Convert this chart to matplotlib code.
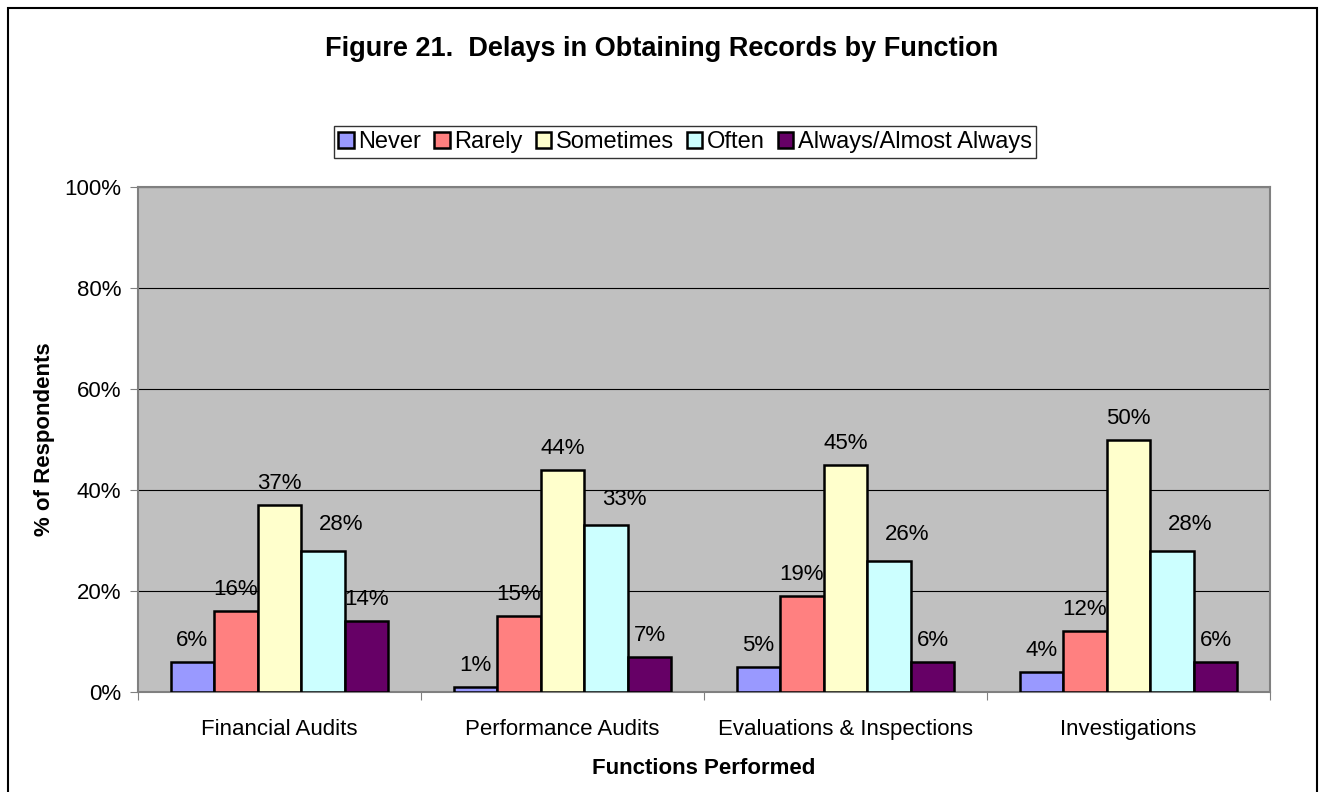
import matplotlib
matplotlib.use("Agg")
import matplotlib.pyplot as plt
import numpy as np
from matplotlib.patches import Rectangle

categories = ["Financial Audits", "Performance Audits", "Evaluations & Inspections", "Investigations"]
series_names = ["Never", "Rarely", "Sometimes", "Often", "Always/Almost Always"]
never = [6, 1, 5, 4]
rarely = [16, 15, 19, 12]
sometimes = [37, 44, 45, 50]
often = [28, 33, 26, 28]
always = [14, 7, 6, 6]
series_values = [never, rarely, sometimes, often, always]
colors = ["#9999FF", "#FF8080", "#FFFFCC", "#CCFFFF", "#660066"]
yticks = [0, 20, 40, 60, 80, 100]
ytick_labels = ["0%", "20%", "40%", "60%", "80%", "100%"]

plt.rcParams['font.family'] = ['Liberation Sans', 'DejaVu Sans']

W, H = 1323, 792
fig = plt.figure(figsize=(W / 100, H / 100), dpi=100)
ax = fig.add_axes([138 / W, 1 - 692 / H, (1270 - 138) / W, (692 - 187) / H])
ax.set_facecolor("#C0C0C0")

n = len(series_names)
bw = 1 / 6.5
x = np.arange(len(categories))
for i, (name, vals, c) in enumerate(zip(series_names, series_values, colors)):
    pos = x + (i - (n - 1) / 2) * bw
    ax.bar(pos, vals, width=bw, color=c, edgecolor="black", linewidth=1.8,
           label=name, zorder=3)
    # Excel nudged the "Often" labels up and to the right
    dx, dy = (13, 15) if name == "Often" else (0, 11.5)
    for xp, v in zip(pos, vals):
        ax.annotate(f"{v}%", (xp, v), xytext=(dx, dy), textcoords="offset points",
                    ha="center", va="baseline", fontsize=16, zorder=4)

ax.set_xlim(-0.5, len(categories) - 0.5)
ax.set_ylim(0, 100)
ax.set_yticks(yticks)
ax.set_yticklabels(ytick_labels, fontsize=16)
ax.yaxis.grid(True, color="black", linewidth=0.8, zorder=1)
ax.set_axisbelow(True)
ax.set_xticks(np.arange(len(categories) + 1) - 0.5)
ax.set_xticklabels([])
ax.set_xticks(x, minor=True)
ax.set_xticklabels(categories, minor=True, fontsize=16)
ax.tick_params(axis="x", which="minor", length=0, pad=19.5)
ax.tick_params(axis="x", which="major", length=6, direction="out", color="#808080")
ax.tick_params(axis="y", length=6, direction="out", color="#808080", pad=6)
for s in ax.spines.values():
    s.set_color("#808080")
    s.set_linewidth(1.5)

ax.set_ylabel("% of Respondents", fontsize=16, fontweight="bold", labelpad=7)
ax.set_xlabel("Functions Performed", fontsize=16, fontweight="bold", labelpad=13)

fig.text(662 / W, 1 - 49 / H, "Figure 21.  Delays in Obtaining Records by Function",
         ha="center", va="center", fontsize=19.5, fontweight="bold")

leg = fig.legend(loc="center", bbox_to_anchor=(685 / W, 1 - 142 / H), ncol=5,
                 fontsize=17, frameon=True, fancybox=False, edgecolor="black",
                 handlelength=0.65, handleheight=0.65, handletextpad=0.2,
                 columnspacing=0.55, borderpad=0.2, borderaxespad=0)
leg.get_frame().set_linewidth(1.0)

fig.patches.append(Rectangle((8 / W, -0.05), (1317 - 8) / W, 1 - 8 / H + 0.05,
                             transform=fig.transFigure, fill=False,
                             edgecolor="black", linewidth=1.5))

fig.savefig("out.png", dpi=100)
